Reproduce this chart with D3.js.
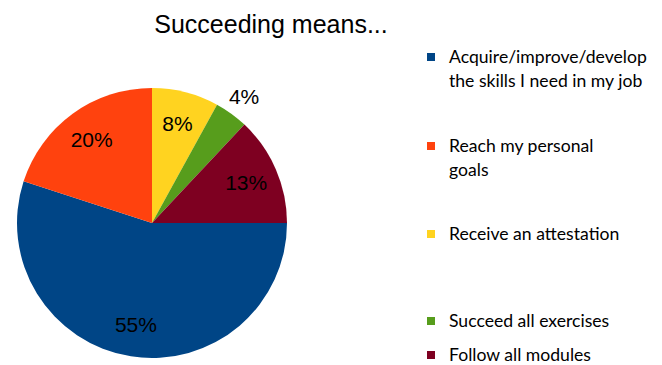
<!DOCTYPE html>
<html>
<head>
<meta charset="utf-8">
<script src="https://cdn.jsdelivr.net/npm/d3@7"></script>
<style>
  body { margin: 0; background: #fff; }
</style>
</head>
<body>
<div id="the_chart"></div>
<script>
var categories = [
    ["Acquire/improve/develop", "the skills I need in my job"],
    ["Reach my personal", "goals"],
    ["Receive an attestation"],
    ["Succeed all exercises"],
    ["Follow all modules"]
];
var values = [55, 20, 8, 4, 13];
var colors = ["#004586", "#ff420e", "#ffd320", "#579d1c", "#7e0021"];
var legend_y = [57, 146, 234, 321, 355]; // vertical centre of each legend square

var w = 662, h = 365;
var cx = 152, cy = 223, r = 135;

var svg = d3.select("#the_chart")
    .append("svg")
    .attr("width", w)
    .attr("height", h);

// title
svg.append("text")
    .attr("x", 271)
    .attr("y", 33)
    .attr("text-anchor", "middle")
    .attr("font-family", "Liberation Sans, Arial, sans-serif")
    .attr("font-size", 25)
    .attr("fill", "#000")
    .text("Succeeding means...");

// pie starts at 3 o'clock and runs clockwise
var pie = d3.pie()
    .sort(null)
    .startAngle(Math.PI / 2)
    .endAngle(Math.PI / 2 + 2 * Math.PI);

var arc = d3.arc().innerRadius(0).outerRadius(r);
var arcs = pie(values);

var g = svg.append("g").attr("transform", "translate(" + cx + "," + cy + ")");

g.selectAll("path")
    .data(arcs)
    .enter().append("path")
    .attr("d", arc)
    .attr("fill", function(d, i) { return colors[i]; });

// labels: inside for big slices, outside for the small one
var labelArc = d3.arc().innerRadius(r * 0.76).outerRadius(r * 0.76);
var outerArc = d3.arc().innerRadius(r * 1.16).outerRadius(r * 1.16);

g.selectAll("text")
    .data(arcs)
    .enter().append("text")
    .attr("transform", function(d) {
        var p = (d.data < 5 ? outerArc : labelArc).centroid(d);
        return "translate(" + p[0] + "," + p[1] + ")";
    })
    .attr("dy", "0.35em")
    .attr("text-anchor", "middle")
    .attr("font-family", "Liberation Sans, Arial, sans-serif")
    .attr("font-size", 21)
    .attr("fill", "#000")
    .text(function(d) { return d.data + "%"; });

// legend
var leg = svg.selectAll(".leg")
    .data(categories)
    .enter().append("g")
    .attr("class", "leg")
    .attr("transform", function(d, i) { return "translate(427," + legend_y[i] + ")"; });

leg.append("rect")
    .attr("x", 0)
    .attr("y", -4)
    .attr("width", 8)
    .attr("height", 8)
    .attr("fill", function(d, i) { return colors[i]; });

leg.append("text")
    .attr("x", 22)
    .attr("y", 6)
    .attr("font-family", "Lato, Open Sans, sans-serif")
    .attr("font-size", 17.6)
    .attr("fill", "#000")
    .selectAll("tspan")
    .data(function(d) { return d; })
    .enter().append("tspan")
    .attr("x", 22)
    .attr("dy", function(d, i) { return i == 0 ? 0 : 24; })
    .text(function(d) { return d; });
</script>
</body>
</html>
